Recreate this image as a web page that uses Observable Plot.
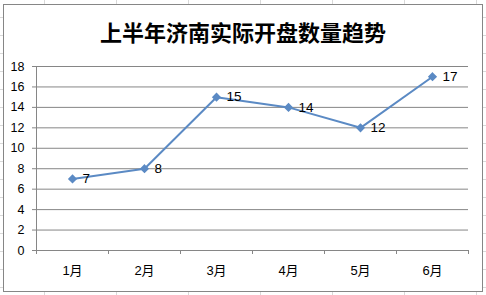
<!DOCTYPE html>
<html>
<head>
<meta charset="utf-8">
<script src="https://cdn.jsdelivr.net/npm/d3@7"></script>
<script src="https://cdn.jsdelivr.net/npm/@observablehq/plot@0.6"></script>
<style>
  html, body { margin: 0; padding: 0; }
  body { width: 486px; height: 295px; overflow: hidden; background: #fff; }
  #wrap { position: relative; width: 486px; height: 295px;
    background-color: #fff;
    background-image:
      repeating-linear-gradient(to right, transparent 0, transparent 44px, #d9d9d9 44px, #d9d9d9 45px, transparent 45px, transparent 72px),
      repeating-linear-gradient(to bottom, transparent 0, transparent 17px, #d9d9d9 17px, #d9d9d9 18px);
  }
  #box { position: absolute; left: 3px; top: 4px; width: 478px; height: 286px;
    background: #fff; border: 1px solid #868686; }
  #title { position: absolute; left: 0; top: 17px; width: 486px; text-align: center;
    font-family: "Noto Sans CJK SC", sans-serif; font-weight: 700; font-size: 22px;
    line-height: 28px; color: #000; }
  #chart { position: absolute; left: 0; top: 0; }
</style>
</head>
<body>
<div id="wrap">
  <div id="box"></div>
  <div id="title">上半年济南实际开盘数量趋势</div>
  <div id="chart"></div>
</div>
<script>
const months = ["1月", "2月", "3月", "4月", "5月", "6月"];
const values = [7, 8, 15, 14, 12, 17];
const yTicks = [0, 2, 4, 6, 8, 10, 12, 14, 16, 18];

const data = months.map((m, i) => ({ idx: i + 1, month: m, value: values[i] }));
const boundaries = [...months.map((_, i) => i + 0.5), months.length + 0.5];
const lineColor = "#5b8ac4";
const font = "'Liberation Sans', 'Noto Sans CJK SC', sans-serif";

const chart = Plot.plot({
  width: 486,
  height: 295,
  marginLeft: 36,
  marginRight: 18,
  marginTop: 66,
  marginBottom: 45,
  style: { background: "transparent", fontFamily: font, color: "#000", overflow: "visible" },
  x: { type: "linear", domain: [0.5, months.length + 0.5], label: null },
  y: { domain: [0, 18], label: null },
  marks: [
    Plot.gridY(yTicks, { stroke: "#868686", strokeOpacity: 1 }),
    Plot.ruleX([0.5], { stroke: "#868686" }),
    Plot.axisY({ ticks: yTicks, tickSize: 4, tickPadding: 8, fontSize: 12.5, stroke: "#868686", color: "#000", label: null }),
    Plot.axisX({ ticks: boundaries, tickFormat: () => "", tickSize: 4, stroke: "#868686", label: null }),
    Plot.axisX({ ticks: data.map(d => d.idx), tickFormat: i => months[i - 1], tickSize: 0, tickPadding: 15, fontSize: 13, color: "#000", label: null }),
    Plot.line(data, { x: "idx", y: "value", stroke: lineColor, strokeWidth: 2 }),
    Plot.dot(data, { x: "idx", y: "value", symbol: "diamond2", r: 3.2, fill: lineColor, stroke: lineColor }),
    Plot.text(data, { x: "idx", y: "value", text: d => String(d.value), dx: 10, textAnchor: "start", fontSize: 13.5, fill: "#000" })
  ]
});
document.getElementById("chart").appendChild(chart);
</script>
</body>
</html>
